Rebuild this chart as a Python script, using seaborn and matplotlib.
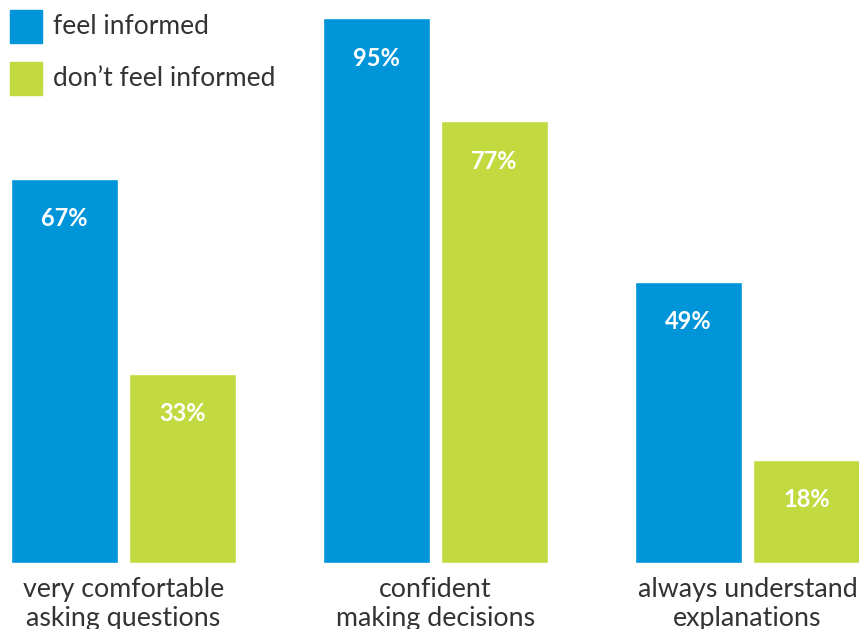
import matplotlib
matplotlib.use("Agg")
import matplotlib.pyplot as plt
import seaborn as sns
import pandas as pd
from matplotlib.patches import Rectangle

# Survey results
categories = ["very comfortable\nasking questions",
              "confident\nmaking decisions",
              "always understand\nexplanations"]
feel_informed = [67, 95, 49]
dont_feel_informed = [33, 77, 18]
series_names = ["feel informed", "don\u2019t feel informed"]
palette = ["#0095D9", "#C3D940"]

df = pd.DataFrame({
    "category": categories * 2,
    "group": [series_names[0]] * 3 + [series_names[1]] * 3,
    "pct": feel_informed + dont_feel_informed,
})

sns.set_theme(style="white")
plt.rcParams["font.family"] = ["Lato", "DejaVu Sans"]

W, H = 859, 629
fig = plt.figure(figsize=(W / 100, H / 100), dpi=100)
base_px = 563
ax = fig.add_axes([0, (H - base_px) / H, 1, base_px / H])

sns.barplot(data=df, x="category", y="pct", hue="group",
            palette=palette, width=0.756, gap=0.1, saturation=1,
            order=categories, hue_order=series_names, ax=ax, legend=False)

px_per_unit = (base_px - 18) / 95
ax.set_ylim(0, base_px / px_per_unit)
ax.set_xlim(-123.5 / 312, (W - 123.5) / 312)

# value labels inside bars
for cont in ax.containers:
    for bar in cont:
        h = bar.get_height()
        ax.annotate(f"{h:.0f}%", (bar.get_x() + bar.get_width() / 2, h),
                    xytext=(0, -40 * 0.72), textcoords="offset points",
                    ha="center", va="center", color="white",
                    fontsize=17, fontweight="bold")

for s in ax.spines.values():
    s.set_visible(False)
ax.set_yticks([])
ax.set_xlabel("")
ax.set_ylabel("")
ax.tick_params(axis="x", length=0, pad=10, labelsize=19.3, labelcolor="#333333")
for lbl in ax.get_xticklabels():
    lbl.set_linespacing(1.2)

# legend
for i, (name, col) in enumerate(zip(series_names, palette)):
    top = 10 + i * 52
    fig.patches.append(Rectangle((10 / W, 1 - (top + 33) / H), 32 / W, 33 / H,
                                 transform=fig.transFigure, color=col))
    fig.text(53 / W, 1 - (top + 17) / H, name, ha="left", va="center",
             fontsize=19, color="#333333")

fig.savefig("out.png", dpi=100)
